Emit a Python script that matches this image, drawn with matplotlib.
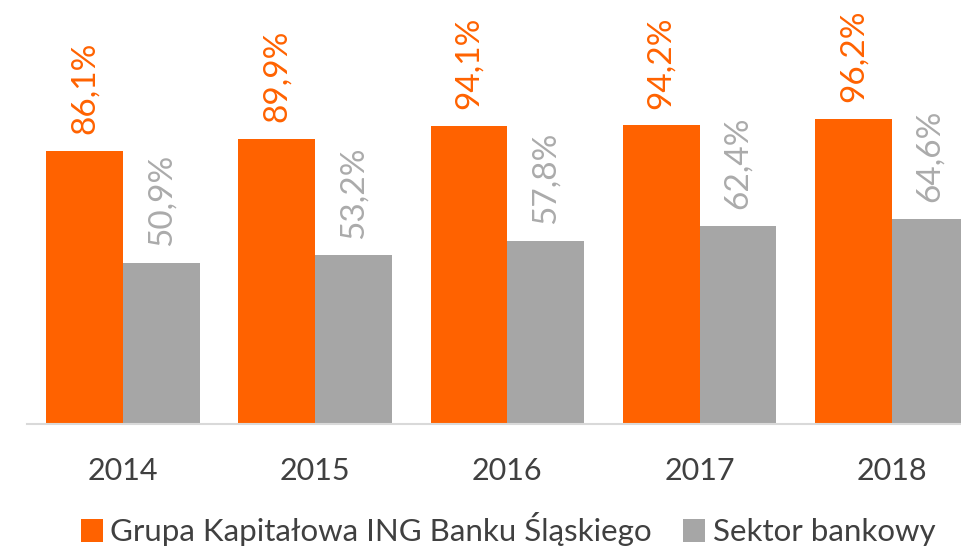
import matplotlib.pyplot as plt
import numpy as np

# dane
years = ['2014', '2015', '2016', '2017', '2018']
ing = [86.1, 89.9, 94.1, 94.2, 96.2]
sektor = [50.9, 53.2, 57.8, 62.4, 64.6]
ing_labels = ['86,1%', '89,9%', '94,1%', '94,2%', '96,2%']
sektor_labels = ['50,9%', '53,2%', '57,8%', '62,4%', '64,6%']
series_names = ['Grupa Kapitałowa ING Banku Śląskiego', 'Sektor bankowy']

orange = '#FF6200'
grey = '#A6A6A6'

plt.rcParams['font.family'] = ['Lato', 'DejaVu Sans']

fig = plt.figure(figsize=(9.61, 5.48), dpi=100)
ax = fig.add_axes([0, 0.2263, 1, 0.7737])

x = np.arange(len(years))
w = 0.4
b1 = ax.bar(x - w / 2, ing, w, color=orange, label=series_names[0])
b2 = ax.bar(x + w / 2, sektor, w, color=grey, label=series_names[1])

for xi, v, t in zip(x, ing, ing_labels):
    ax.annotate(t, (xi - w / 2, v), xytext=(0, 12), textcoords='offset points',
                rotation=90, ha='center', va='bottom', color=orange,
                fontsize=24, annotation_clip=False)
for xi, v, t in zip(x, sektor, sektor_labels):
    ax.annotate(t, (xi + w / 2, v), xytext=(0, 12), textcoords='offset points',
                rotation=90, ha='center', va='bottom', color='#ABABAB',
                fontsize=24, annotation_clip=False)

ax.set_xlim(-0.64, 4.36)
ax.set_ylim(0, 133.7)
ax.set_xticks(x)
ax.set_xticklabels(years, fontsize=22, color='#404040')
ax.tick_params(axis='x', length=0, pad=24)
ax.set_yticks([])
for s in ['top', 'right', 'left']:
    ax.spines[s].set_visible(False)
ax.spines['bottom'].set_color('#D9D9D9')
ax.spines['bottom'].set_linewidth(1.5)
ax.spines['bottom'].set_bounds(-0.5, 4.36)

leg = fig.legend(handles=[b1, b2], loc='center left', bbox_to_anchor=(0.084, 0.034),
                 ncol=2, frameon=False, fontsize=22.5, handlelength=0.7, handleheight=0.8,
                 handletextpad=0.25, columnspacing=1.0, borderpad=0, borderaxespad=0,
                 labelcolor='#404040')

fig.savefig('out.png', dpi=100)
